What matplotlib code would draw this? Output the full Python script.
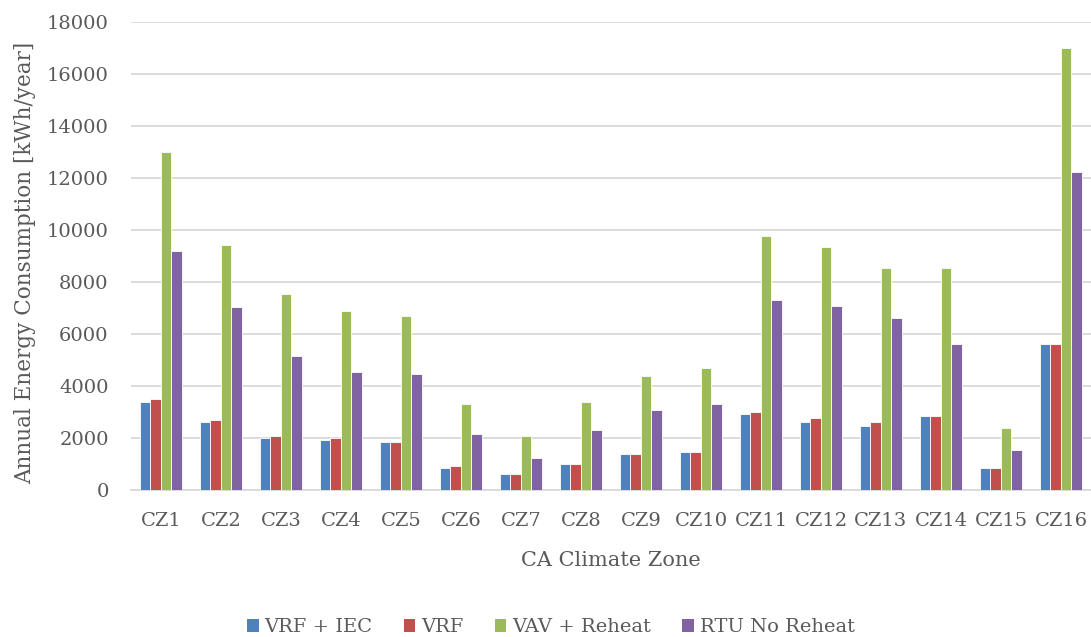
import numpy as np
import matplotlib
matplotlib.use("Agg")
import matplotlib.pyplot as plt
from matplotlib.patches import Patch

zones = ["CZ1", "CZ2", "CZ3", "CZ4", "CZ5", "CZ6", "CZ7", "CZ8",
         "CZ9", "CZ10", "CZ11", "CZ12", "CZ13", "CZ14", "CZ15", "CZ16"]

vrf_iec = [3400, 2630, 2010, 1940, 1860, 860, 630, 1010,
           1400, 1470, 2930, 2630, 2470, 2860, 860, 5620]
vrf = [3480, 2700, 2090, 2010, 1860, 940, 630, 1010,
       1400, 1470, 3010, 2780, 2630, 2860, 860, 5620]
vav_reheat = [13000, 9400, 7550, 6860, 6700, 3320, 2090, 3400,
              4400, 4700, 9780, 9320, 8550, 8550, 2400, 17000]
rtu_no_reheat = [9170, 7020, 5160, 4550, 4470, 2170, 1240, 2320,
                 3090, 3320, 7320, 7090, 6620, 5620, 1550, 12240]

series_names = ["VRF + IEC", "VRF", "VAV + Reheat", "RTU No Reheat"]
series = [vrf_iec, vrf, vav_reheat, rtu_no_reheat]
colors = ["#4F81BD", "#C0504D", "#9BBB59", "#8064A2"]

text_color = "#595959"
grid_color = "#D9D9D9"
plt.rcParams["font.family"] = ["DejaVu Serif"]

fig = plt.figure(figsize=(10.91, 6.37), dpi=100)
ax = fig.add_axes([0.120, 0.2308, 0.880, 0.7352])

x = np.arange(len(zones))
bw = 0.175
for i, (vals, col) in enumerate(zip(series, colors)):
    ax.bar(x + (i - 1.5) * bw, vals, width=bw, color=col,
           edgecolor="white", linewidth=0.6, zorder=3)

ax.set_xlim(-0.5, len(zones) - 0.5)
ax.set_ylim(0, 18000)
ax.set_yticks(np.arange(0, 18001, 2000))
ax.yaxis.grid(True, color=grid_color, linewidth=1.3, zorder=0)
ax.set_axisbelow(True)

for s in ["top", "right", "left"]:
    ax.spines[s].set_visible(False)
ax.spines["bottom"].set_color(grid_color)
ax.spines["bottom"].set_linewidth(1.3)

ax.set_xticks(x)
ax.set_xticklabels(zones)
ax.tick_params(axis="both", length=0, labelsize=14, colors=text_color)
ax.tick_params(axis="x", pad=16)
ax.tick_params(axis="y", pad=16)

ax.set_xlabel("CA Climate Zone", fontsize=15, color=text_color, labelpad=15)
ax.set_ylabel("Annual Energy Consumption [kWh/year]", fontsize=15.5,
              color=text_color)
ax.yaxis.set_label_coords(-0.099, 0.485)

handles = [Patch(facecolor=c, edgecolor="none") for c in colors]
fig.legend(handles, series_names, loc="center", bbox_to_anchor=(0.505, 0.015),
           ncol=4, frameon=False, fontsize=14, labelcolor=text_color,
           handlelength=0.6, handleheight=0.6, handletextpad=0.3,
           columnspacing=1.6)

fig.savefig("out.png", dpi=100, facecolor="white")
